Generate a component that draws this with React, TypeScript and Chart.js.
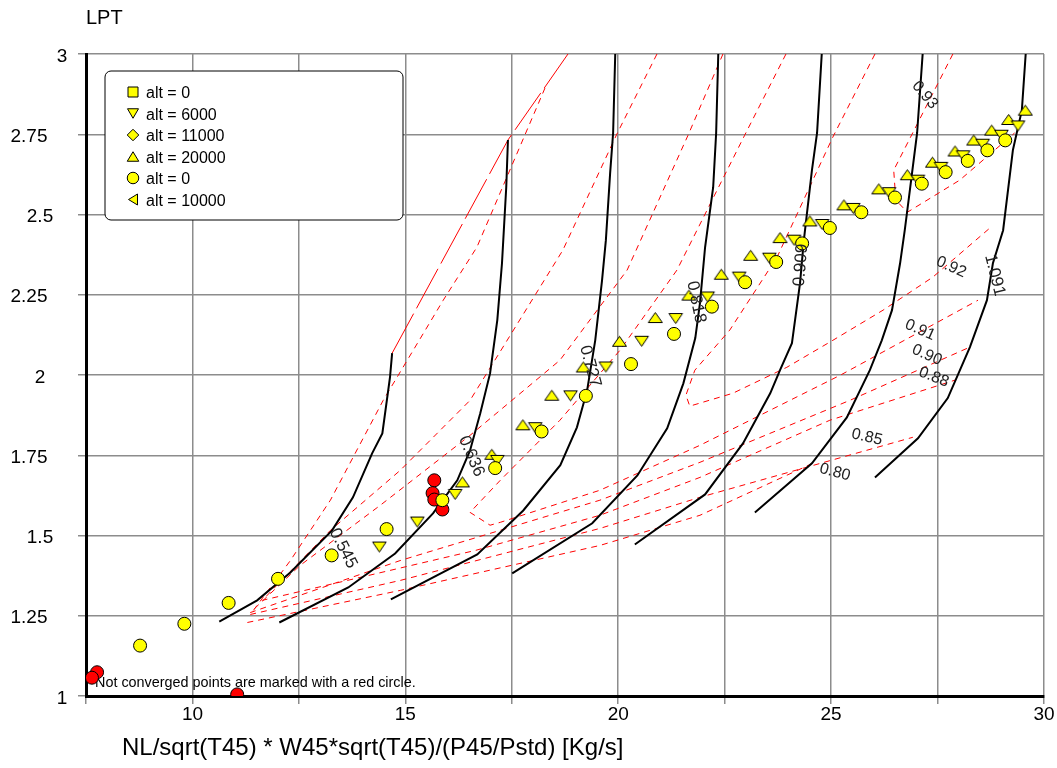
import React, { useEffect, useRef } from 'react';
import { Chart, registerables } from 'chart.js';

Chart.register(...registerables);

type P = [number, number];

const FONT = '"Liberation Sans", Arial, Helvetica, sans-serif';

// ---------- axes ----------
const xMin = 7.5;
const xMax = 30;
const xStep = 2.5;
const yMin = 1;
const yMax = 3;
const yStep = 0.25;
const yTickLabels = ['3', '2.75', '2.5', '2.25', '2', '1.75', '1.5', '1.25', '1'];

const xTitle = 'NL/sqrt(T45) * W45*sqrt(T45)/(P45/Pstd) [Kg/s]';
const yTitle = 'LPT';
const noteText = 'Not converged points are marked with a red circle.';

// ---------- operating points ----------
const alt0Squares: P[] = [];
const alt6000: P[] = [
  [14.39, 1.464], [15.28, 1.542], [16.17, 1.628], [17.16, 1.734], [18.05, 1.836],
  [18.88, 1.935], [19.71, 2.025], [20.55, 2.105], [21.35, 2.176], [22.10, 2.243],
  [22.84, 2.305], [23.55, 2.364], [24.13, 2.420], [24.79, 2.469], [25.52, 2.519],
  [26.36, 2.568], [27.04, 2.607], [27.58, 2.647], [28.10, 2.683], [28.56, 2.719],
  [29.00, 2.747], [29.39, 2.776],
];
const alt11000: P[] = [];
const alt20000: P[] = [
  [16.34, 1.667], [17.03, 1.753], [17.76, 1.845], [18.44, 1.937], [19.18, 2.025],
  [20.03, 2.105], [20.87, 2.179], [21.66, 2.249], [22.42, 2.314], [23.11, 2.373],
  [23.80, 2.428], [24.50, 2.480], [25.30, 2.530], [26.12, 2.580], [26.79, 2.624],
  [27.38, 2.663], [27.91, 2.698], [28.35, 2.732], [28.77, 2.763], [29.17, 2.796],
  [29.56, 2.825],
];
const alt0Circles: P[] = [
  [8.77, 1.157], [9.81, 1.225], [10.85, 1.290], [12.01, 1.365], [13.27, 1.438],
  [14.56, 1.520], [15.87, 1.610], [17.11, 1.710], [18.20, 1.824], [19.24, 1.935],
  [20.30, 2.034], [21.31, 2.128], [22.20, 2.213], [22.98, 2.289], [23.71, 2.352],
  [24.32, 2.410], [24.97, 2.458], [25.71, 2.507], [26.50, 2.553], [27.13, 2.596],
  [27.69, 2.632], [28.21, 2.667], [28.67, 2.700], [29.09, 2.731],
];
const alt10000: P[] = [];
const notConverged: P[] = [
  [15.68, 1.672], [15.64, 1.632], [15.68, 1.612], [15.87, 1.581],
  [7.76, 1.074], [7.64, 1.057], [11.05, 1.005],
];

// ---------- speed lines ----------
const speed0545: P[] = [
  [10.63, 1.232], [11.52, 1.298], [12.30, 1.385], [13.28, 1.516], [13.77, 1.619],
  [14.22, 1.756], [14.46, 1.818], [14.64, 1.993], [14.69, 2.068],
];
const speed0636: P[] = [
  [12.04, 1.229], [13.66, 1.338], [14.76, 1.444], [15.65, 1.569], [16.22, 1.672],
  [16.52, 1.765], [16.76, 1.881], [16.99, 2.005], [17.16, 2.171], [17.27, 2.348],
  [17.37, 2.585], [17.41, 2.732],
];
const speed0727: P[] = [
  [14.66, 1.301], [16.69, 1.441], [17.77, 1.578], [18.64, 1.719], [19.03, 1.837],
  [19.27, 1.952], [19.46, 2.108], [19.62, 2.295], [19.71, 2.420], [19.81, 2.629],
  [19.88, 2.754], [19.93, 3.0],
];
const speed0818: P[] = [
  [17.51, 1.382], [19.39, 1.538], [20.45, 1.687], [21.15, 1.834], [21.53, 1.974],
  [21.81, 2.115], [21.92, 2.224], [22.04, 2.398], [22.23, 2.585], [22.30, 2.754],
  [22.35, 3.0],
];
const speed0909: P[] = [
  [20.39, 1.472], [22.04, 1.628], [22.93, 1.787], [23.57, 1.943], [23.80, 2.015],
  [24.08, 2.099], [24.27, 2.286], [24.36, 2.420], [24.55, 2.638], [24.67, 2.754],
  [24.78, 3.0],
];
const speed1000: P[] = [
  [23.21, 1.572], [24.55, 1.725], [25.37, 1.868], [25.91, 2.015], [26.19, 2.108],
  [26.43, 2.202], [26.62, 2.348], [26.73, 2.451], [26.85, 2.576], [27.02, 2.754],
  [27.15, 3.0],
];
const speed1091: P[] = [
  [26.03, 1.681], [27.04, 1.803], [27.74, 1.928], [28.26, 2.087], [28.66, 2.233],
  [28.80, 2.348], [29.04, 2.451], [29.27, 2.701], [29.48, 2.825], [29.57, 3.0],
];
const speedLines: P[][] = [speed0545, speed0636, speed0727, speed0818, speed0909, speed1000, speed1091];

const speedLabelText = ['0.545', '0.636', '0.727', '0.818', '0.909', '1.091'];
const speedLabelAt: P[] = [
  [13.54, 1.460], [16.55, 1.747], [19.34, 2.027], [21.83, 2.227], [24.29, 2.342], [28.84, 2.311],
];

// ---------- efficiency contours ----------
const surgeLine: P[] = [[14.69, 2.068], [17.41, 2.732], [18.82, 3.0]];
const eff093: P[] = [
  [27.86, 3.0], [26.47, 2.638], [26.52, 2.545], [26.79, 2.507], [28.02, 2.607], [29.31, 2.754],
];
const eff092: P[] = [
  [26.03, 3.0], [25.04, 2.741], [23.73, 2.367], [22.62, 2.140], [21.80, 2.015], [21.59, 1.937],
  [21.68, 1.903], [22.69, 1.943], [23.96, 2.024], [25.04, 2.108], [26.22, 2.202], [27.39, 2.305],
  [28.73, 2.458],
];
const eff091: P[] = [
  [23.94, 3.0], [22.97, 2.747], [21.38, 2.327], [20.04, 2.077], [18.63, 1.859], [17.23, 1.672],
  [16.52, 1.572], [16.99, 1.532], [17.23, 1.541], [19.57, 1.641], [21.92, 1.781], [25.21, 1.999],
  [28.45, 2.233],
];
const eff090: P[] = [
  [22.46, 3.0], [21.64, 2.747], [20.21, 2.327], [18.63, 2.046], [16.52, 1.812], [14.41, 1.594],
  [12.53, 1.407], [11.36, 1.260], [14.88, 1.422], [19.57, 1.610], [21.92, 1.728], [25.44, 1.921],
  [28.26, 2.087],
];
const eff088: P[] = [
  [20.91, 3.0], [19.97, 2.751], [18.70, 2.389], [16.52, 1.921], [14.88, 1.703], [13.24, 1.516],
  [11.64, 1.298], [16.66, 1.454], [19.57, 1.563], [21.92, 1.681], [24.97, 1.859], [27.91, 1.984],
];
const eff085: P[] = [
  [18.28, 2.894], [16.68, 2.398], [15.89, 2.233], [14.48, 1.921], [13.24, 1.610], [12.30, 1.422],
  [11.36, 1.254], [14.88, 1.360], [19.57, 1.522], [21.92, 1.619], [26.92, 1.806],
];
const eff080: P[] = [
  [11.29, 1.229], [14.88, 1.329], [19.57, 1.469], [21.92, 1.563], [24.57, 1.725],
];
const effLines: P[][] = [eff093, eff092, eff091, eff090, eff088, eff085, eff080];

const effLabelText = ['0.93', '0.92', '0.91', '0.90', '0.88', '0.85', '0.80'];
const effLabelAt: P[] = [
  [27.20, 2.872], [27.82, 2.336], [27.09, 2.140], [27.25, 2.062], [27.41, 1.993], [25.84, 1.806], [25.09, 1.697],
];

// ---------- styles (kept apart from data) ----------
const speedLabelAngle = [63, 67, 75, 78, -85, 76];
const effLabelAngle = [50, 24, 24, 24, 22, 13, 15];
// horizontal centre of each y tick label, measured leftwards from the plot's left edge
const yLabelCenterOffset = [24, 57, 46, 57, 46, 57, 46, 57, 24];

const legendItems = [
  { text: 'alt = 0', style: 'rect' },
  { text: 'alt = 6000', style: 'down' },
  { text: 'alt = 11000', style: 'rectRot' },
  { text: 'alt = 20000', style: 'up' },
  { text: 'alt = 0', style: 'circle' },
  { text: 'alt = 10000', style: 'left' },
];

const toXY = (arr: P[]) => arr.map(([x, y]) => ({ x, y }));

function shapePath(ctx: CanvasRenderingContext2D, style: string, x: number, y: number, w: number, h: number) {
  ctx.beginPath();
  if (style === 'circle') {
    ctx.arc(x, y, w / 2, 0, Math.PI * 2);
  } else if (style === 'rect') {
    ctx.rect(x - w / 2, y - h / 2, w, h);
  } else if (style === 'rectRot') {
    ctx.moveTo(x, y - h / 2);
    ctx.lineTo(x + w / 2, y);
    ctx.lineTo(x, y + h / 2);
    ctx.lineTo(x - w / 2, y);
    ctx.closePath();
  } else if (style === 'up') {
    ctx.moveTo(x, y - h / 2);
    ctx.lineTo(x + w / 2, y + h / 2);
    ctx.lineTo(x - w / 2, y + h / 2);
    ctx.closePath();
  } else if (style === 'down') {
    ctx.moveTo(x - w / 2, y - h / 2);
    ctx.lineTo(x + w / 2, y - h / 2);
    ctx.lineTo(x, y + h / 2);
    ctx.closePath();
  } else if (style === 'left') {
    ctx.moveTo(x - w / 2, y);
    ctx.lineTo(x + w / 2, y - h / 2);
    ctx.lineTo(x + w / 2, y + h / 2);
    ctx.closePath();
  }
}

function markerCanvas(style: string, w: number, h: number, fill: string) {
  const c = document.createElement('canvas');
  c.width = Math.ceil(w + 3);
  c.height = Math.ceil(h + 3);
  const ctx = c.getContext('2d') as CanvasRenderingContext2D;
  ctx.fillStyle = fill;
  ctx.strokeStyle = '#000';
  ctx.lineWidth = 1;
  shapePath(ctx, style, c.width / 2, c.height / 2, w, h);
  ctx.fill();
  ctx.stroke();
  return c;
}

function rotText(ctx: CanvasRenderingContext2D, text: string, x: number, y: number, deg: number, font: string, color: string) {
  ctx.save();
  ctx.translate(x, y);
  ctx.rotate((deg * Math.PI) / 180);
  ctx.font = font;
  ctx.fillStyle = color;
  ctx.textAlign = 'center';
  ctx.textBaseline = 'middle';
  ctx.fillText(text, 0, 0);
  ctx.restore();
}

const legendShapeSize: Record<string, [number, number]> = {
  rect: [10, 10],
  down: [11, 9.5],
  rectRot: [11.5, 11.5],
  up: [11.5, 9.5],
  circle: [11.5, 11.5],
  left: [9, 11],
};

const overlayPlugin = {
  id: 'overlay',
  beforeDatasetsDraw(chart: any) {
    const { ctx, chartArea } = chart;
    ctx.save();
    ctx.font = `14.4px ${FONT}`;
    ctx.fillStyle = '#000';
    ctx.textAlign = 'left';
    ctx.textBaseline = 'middle';
    ctx.fillText(noteText, chartArea.left + 9, chartArea.bottom - 13);
    ctx.restore();
  },
  afterDatasetsDraw(chart: any) {
    const { ctx } = chart;
    const xs = chart.scales.x;
    const ys = chart.scales.y;
    speedLabelText.forEach((t, i) => {
      const [vx, vy] = speedLabelAt[i];
      rotText(ctx, t, xs.getPixelForValue(vx), ys.getPixelForValue(vy), speedLabelAngle[i], `17px ${FONT}`, '#222');
    });
    effLabelText.forEach((t, i) => {
      const [vx, vy] = effLabelAt[i];
      rotText(ctx, t, xs.getPixelForValue(vx), ys.getPixelForValue(vy), effLabelAngle[i], `16px ${FONT}`, '#222');
    });
  },
  afterDraw(chart: any) {
    const { ctx, chartArea } = chart;
    const ys = chart.scales.y;
    ctx.save();
    // y tick labels
    ctx.font = `19px ${FONT}`;
    ctx.fillStyle = '#000';
    ctx.textAlign = 'center';
    ctx.textBaseline = 'middle';
    yTickLabels.forEach((t, i) => {
      ctx.fillText(t, chartArea.left - yLabelCenterOffset[i], ys.getPixelForValue(Number(t)) + 2.5);
    });
    // titles
    ctx.font = `20px ${FONT}`;
    ctx.textAlign = 'left';
    ctx.fillText(yTitle, chartArea.left, 18);
    ctx.font = `24px ${FONT}`;
    ctx.fillText(xTitle, chartArea.left + 36, 748);
    // legend
    const lx = chartArea.left + 19;
    const ly = chartArea.top + 17;
    const lw = 298;
    const lh = 149;
    const rr = 6;
    ctx.beginPath();
    ctx.moveTo(lx + rr, ly);
    ctx.lineTo(lx + lw - rr, ly);
    ctx.arcTo(lx + lw, ly, lx + lw, ly + rr, rr);
    ctx.lineTo(lx + lw, ly + lh - rr);
    ctx.arcTo(lx + lw, ly + lh, lx + lw - rr, ly + lh, rr);
    ctx.lineTo(lx + rr, ly + lh);
    ctx.arcTo(lx, ly + lh, lx, ly + lh - rr, rr);
    ctx.lineTo(lx, ly + rr);
    ctx.arcTo(lx, ly, lx + rr, ly, rr);
    ctx.closePath();
    ctx.fillStyle = '#fff';
    ctx.fill();
    ctx.strokeStyle = '#000';
    ctx.lineWidth = 1;
    ctx.stroke();
    legendItems.forEach((it, i) => {
      const cy = ly + 22 + i * 21.5;
      const [w, h] = legendShapeSize[it.style];
      ctx.fillStyle = '#ffff00';
      ctx.strokeStyle = '#000';
      ctx.lineWidth = 1;
      shapePath(ctx, it.style, lx + 28, cy - 1, w, h);
      ctx.fill();
      ctx.stroke();
      ctx.fillStyle = '#000';
      ctx.font = `16px ${FONT}`;
      ctx.textAlign = 'left';
      ctx.textBaseline = 'middle';
      ctx.fillText(it.text, lx + 41, cy + 1);
    });
    ctx.restore();
  },
};

export default function App() {
  const ref = useRef<HTMLCanvasElement | null>(null);
  useEffect(() => {
    if (!ref.current) return;
    const upImg = markerCanvas('up', 14, 10, '#ffff00');
    const downImg = markerCanvas('down', 13.5, 10, '#ffff00');
    const leftImg = markerCanvas('left', 10, 13.5, '#ffff00');
    const pointDs = (label: string, data: P[], style: any, r: number, color: string, order: number) => ({
      label,
      data: toXY(data),
      showLine: false,
      pointStyle: style,
      pointRadius: r,
      pointBackgroundColor: color,
      pointBorderColor: '#000',
      pointBorderWidth: 1,
      order,
    });
    const lineDs = (label: string, data: P[], color: string, width: number, dash: number[], order: number) => ({
      label,
      data: toXY(data),
      showLine: true,
      borderColor: color,
      borderWidth: width,
      borderDash: dash,
      pointRadius: 0,
      fill: false,
      tension: 0,
      order,
    });
    const datasets: any[] = [
      pointDs('alt = 0', alt0Circles, 'circle', 6.5, '#ffff00', 0),
      pointDs('alt = 6000', alt6000, downImg, 7, '#ffff00', 1),
      pointDs('alt = 20000', alt20000, upImg, 7, '#ffff00', 2),
      pointDs('alt = 0 sq', alt0Squares, 'rect', 7, '#ffff00', 2),
      pointDs('alt = 11000', alt11000, 'rectRot', 7, '#ffff00', 2),
      pointDs('alt = 10000', alt10000, leftImg, 7, '#ffff00', 2),
      pointDs('not converged', notConverged, 'circle', 6.5, '#ff0000', 3),
      ...speedLines.map((d, i) => lineDs('speed ' + i, d, '#000', 2, [], 5)),
      lineDs('surge', surgeLine, '#ff0000', 1, [45, 6], 6),
      ...effLines.map((d, i) => lineDs('eff ' + effLabelText[i], d, '#ff0000', 1, [6, 5], 6)),
    ];
    const chart = new Chart(ref.current, {
      type: 'scatter',
      data: { datasets },
      options: {
        responsive: false,
        animation: false,
        devicePixelRatio: 1,
        events: [],
        layout: { padding: { left: 0, top: 54, right: 13, bottom: 0 } },
        plugins: { legend: { display: false }, tooltip: { enabled: false }, title: { display: false } },
        scales: {
          x: {
            type: 'linear',
            min: xMin,
            max: xMax,
            afterFit: (s: any) => { s.height = 72; },
            ticks: {
              stepSize: xStep,
              autoSkip: false,
              maxRotation: 0,
              minRotation: 0,
              padding: -1,
              color: '#000',
              font: { family: FONT, size: 19 },
              callback: (v: any) => (Math.abs(v % 5) < 1e-9 ? String(v) : ''),
            },
            grid: { color: '#8c8c8c', lineWidth: 1.5, tickLength: 8 },
            border: { color: '#000', width: 3 },
          },
          y: {
            type: 'linear',
            min: yMin,
            max: yMax,
            afterFit: (s: any) => { s.width = 86; },
            ticks: {
              stepSize: yStep,
              display: false,
            },
            grid: { color: '#8c8c8c', lineWidth: 1.5, tickLength: 8, drawTicks: true },
            border: { color: '#000', width: 3 },
          },
        },
      },
      plugins: [overlayPlugin],
    });
    return () => chart.destroy();
  }, []);
  return (
    <div style={{ position: 'fixed', left: 0, top: 0, width: 1057, height: 768, background: '#fff' }}>
      <canvas ref={ref} width={1057} height={768} style={{ display: 'block' }} />
    </div>
  );
}
